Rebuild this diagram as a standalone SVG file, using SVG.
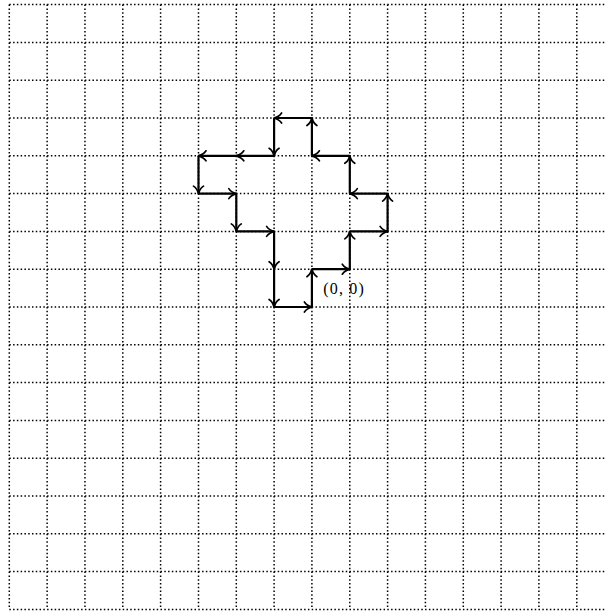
<svg xmlns="http://www.w3.org/2000/svg" width="606" height="612" viewBox="0 0 606 612">
<style>
.grid{fill:none;stroke:#000;stroke-width:1.5;stroke-dasharray:1.5 2.28}
.edge{fill:none;stroke:#000;stroke-width:2.2;marker-end:url(#tip)}
.lbl{font-family:"Liberation Serif","DejaVu Serif",serif;font-size:16px;fill:#000}
</style>
<defs>
<marker id="tip" markerUnits="userSpaceOnUse" viewBox="-10 -7 12 14" refX="0" refY="0" markerWidth="12" markerHeight="14" orient="auto">
<path d="M-7.5,-5 C-5.5,-2 -2,-0.5 0.5,0 C-2,0.5 -5.5,2 -7.5,5" fill="none" stroke="#000" stroke-width="1.7" stroke-linecap="round"/>
</marker>
</defs>
<rect width="606" height="612" fill="#fff"/>
<g id="grid">
<path class="grid" d="M9.3,4.6V609.4M47.13,4.6V609.4M84.96,4.6V609.4M122.8,4.6V609.4M160.6,4.6V609.4M198.5,4.6V609.4M236.3,4.6V609.4M274.1,4.6V609.4M311.9,4.6V609.4M349.8,4.6V609.4M387.6,4.6V609.4M425.4,4.6V609.4M463.3,4.6V609.4M501.1,4.6V609.4M538.9,4.6V609.4M576.8,4.6V609.4"/>
<path class="grid" d="M9.3,4.6H614.6M9.3,42.4H614.6M9.3,80.2H614.6M9.3,118H614.6M9.3,155.8H614.6M9.3,193.6H614.6M9.3,231.4H614.6M9.3,269.2H614.6M9.3,307H614.6M9.3,344.8H614.6M9.3,382.6H614.6M9.3,420.4H614.6M9.3,458.2H614.6M9.3,496H614.6M9.3,533.8H614.6M9.3,571.6H614.6M9.3,609.4H614.6"/>
</g>
<g id="connectors">
<path class="edge" d="M274.1,307H311.9"/>
<path class="edge" d="M311.9,307V269.2"/>
<path class="edge" d="M311.9,269.2H349.8"/>
<path class="edge" d="M349.8,269.2V231.4"/>
<path class="edge" d="M349.8,231.4H387.6"/>
<path class="edge" d="M387.6,231.4V193.6"/>
<path class="edge" d="M387.6,193.6H349.8"/>
<path class="edge" d="M349.8,193.6V155.8"/>
<path class="edge" d="M349.8,155.8H311.9"/>
<path class="edge" d="M311.9,155.8V118"/>
<path class="edge" d="M311.9,118H274.1"/>
<path class="edge" d="M274.1,118V155.8"/>
<path class="edge" d="M274.1,155.8H236.3"/>
<path class="edge" d="M236.3,155.8H198.5"/>
<path class="edge" d="M198.5,155.8V193.6"/>
<path class="edge" d="M198.5,193.6H236.3"/>
<path class="edge" d="M236.3,193.6V231.4"/>
<path class="edge" d="M236.3,231.4H274.1"/>
<path class="edge" d="M274.1,231.4V269.2"/>
<path class="edge" d="M274.1,269.2V307"/>
</g>
<g id="origin-label">
<text class="lbl" x="323.3" y="293.5" textLength="40.5" lengthAdjust="spacing">(0, 0)</text>
</g>
</svg>
